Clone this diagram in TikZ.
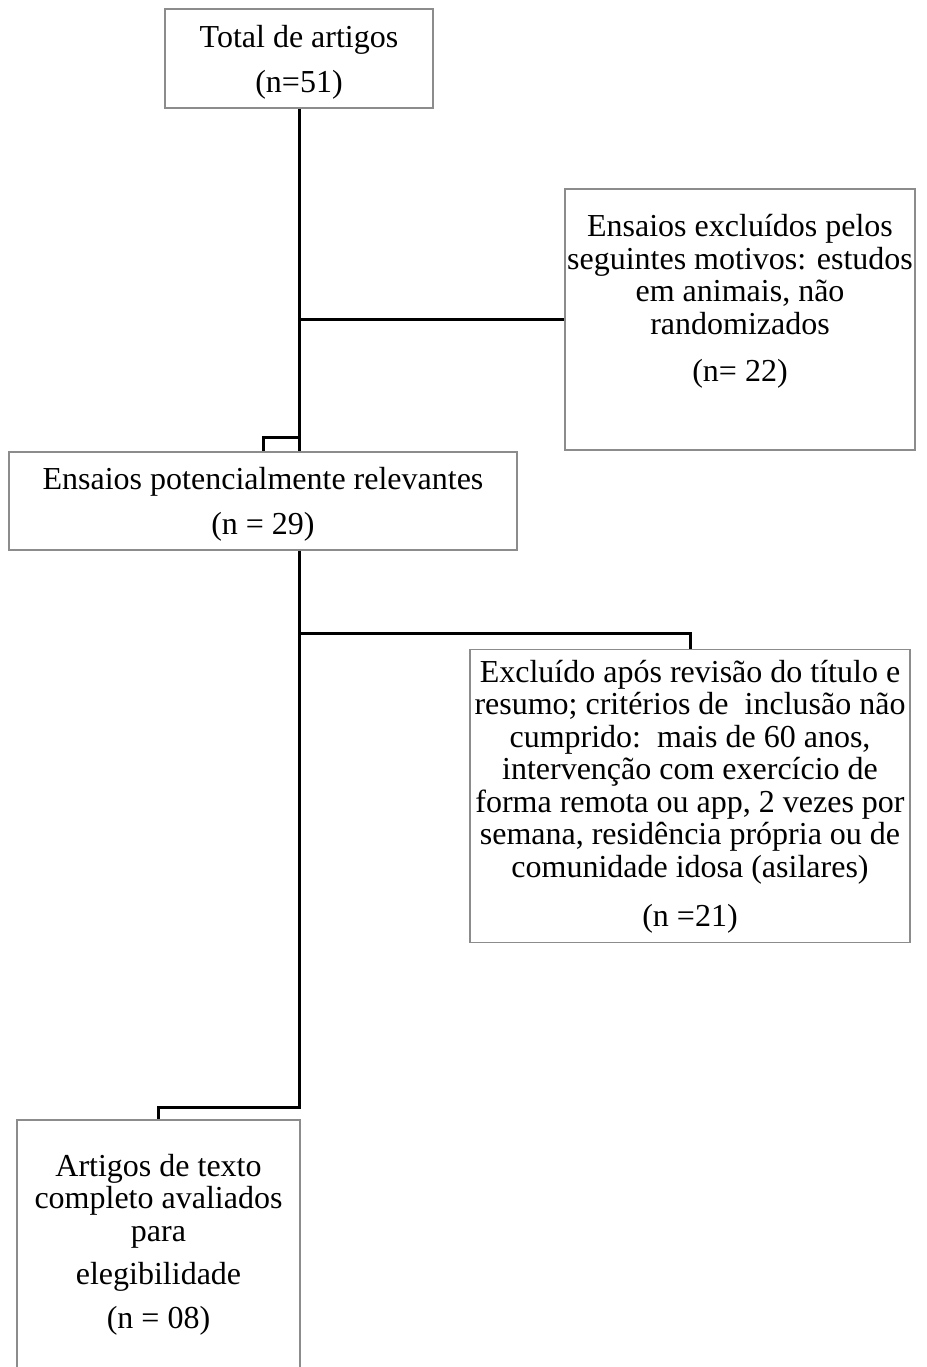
\documentclass[tikz,border=0pt]{standalone}
\usepackage{fontspec}
\setmainfont{Liberation Serif}
\definecolor{boxgray}{RGB}{140,140,140}
\begin{document}
\begin{tikzpicture}[x=1pt,y=-1pt,
  box/.style={draw=boxgray,line width=1.3pt,inner sep=0pt},
  conn/.style={line width=3pt,draw=black},
  txt/.style={align=center,inner sep=0pt,anchor=base,font=\fontsize{32}{32.5}\selectfont}]
\useasboundingbox (0,0) rectangle (926,1367);
\clip (0,0) rectangle (926,1367);
\fill[white] (0,0) rectangle (926,1367);

\node[box,minimum width=268pt,minimum height=99pt] (b1) at (299,58.5) {};
\node[box,minimum width=350pt,minimum height=261pt] (b2) at (740,319.5) {};
\node[box,minimum width=508pt,minimum height=98pt] (b3) at (263,501) {};
\node[box,minimum width=440pt,minimum height=293pt] (b4) at (690,796) {};
\node[box,minimum width=283pt,minimum height=300pt] (b5) at (158.5,1270) {};

\node[txt] (t1) at (299,93) {Total de artigos\\[12.5pt](n=51)};
\node[txt] (t2) at (740,381) {Ensaios excluídos pelos\\seguintes motivos: estudos\\em animais, não\\randomizados\\[14.5pt](n= 22)};
\node[txt] (t3) at (263,534) {Ensaios potencialmente relevantes\\[12.5pt](n = 29)};
\node[txt] (t4) at (690,926) {Excluído após revisão do título e\\resumo; critérios de\ \ inclusão não\\cumprido:\ \ mais de 60 anos,\\intervenção com exercício de\\forma remota ou app, 2 vezes por\\semana, residência própria ou de\\comunidade idosa (asilares)\\[16.5pt](n =21)};
\node[txt] (t5) at (158.5,1328) {Artigos de texto\\completo avaliados\\para\\[10.5pt]elegibilidade\\[11.5pt](n = 08)};

\coordinate (j1) at (b1.south |- 0,437.5);
\coordinate (j2) at (b1.south |- 0,633);
\coordinate (j3) at (b1.south |- 0,1107);

\draw[conn] (b1.south) -- (b1.south |- b3.north);
\draw[conn] (b1.south |- b2.west) -- (b2.west);
\draw[conn] (j1) -| (b3.north);
\draw[conn] (b1.south |- b3.south) -- (j3) -| (b5.north);
\draw[conn] (j2) -| (b4.north);
\end{tikzpicture}
\end{document}
